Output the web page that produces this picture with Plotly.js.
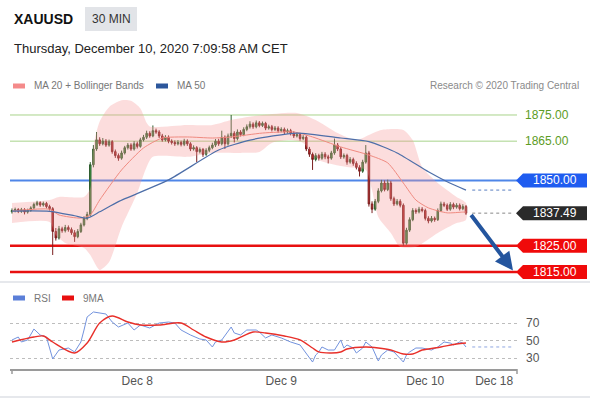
<!DOCTYPE html>
<html><head><meta charset="utf-8">
<script src="https://cdn.plot.ly/plotly-3.0.1.min.js"></script>
<style>html,body{margin:0;padding:0;background:#fff}#chart{width:590px;height:400px}</style>
</head><body><div id="chart"></div>
<script>
// ---------- DATA ----------
const symbol = 'XAUUSD';
const timeframe = '30 MIN';
const stamp = 'Thursday, December 10, 2020 7:09:58 AM CET';

const openP = [1838.0,1838.5,1838.9,1838.2,1838.8,1837.9,1838.6,1839.5,1840.8,1841.5,
 1840.6,1841.2,1840.0,1839.2,1830.5,1828.0,1831.5,1830.8,1832.0,1831.2,
 1830.0,1828.5,1830.5,1833.0,1835.5,1837.0,1856.0,1862.0,1865.5,1864.0,
 1865.0,1863.5,1864.8,1861.0,1859.5,1858.5,1860.5,1862.5,1863.5,1862.0,
 1864.0,1863.0,1865.5,1866.5,1868.0,1867.0,1869.0,1868.5,1867.0,1865.5,
 1866.5,1865.0,1864.5,1864.0,1864.5,1863.8,1865.0,1864.0,1862.0,1862.5,
 1861.0,1861.8,1860.0,1861.5,1862.5,1863.5,1865.0,1864.0,1866.5,1864.0,
 1867.0,1868.0,1866.0,1868.5,1867.5,1869.5,1870.5,1871.5,1870.5,1872.0,
 1871.0,1871.8,1870.0,1870.5,1869.5,1870.0,1869.0,1869.5,1868.5,1869.0,
 1868.0,1867.0,1867.5,1866.0,1866.5,1862.0,1860.0,1858.0,1859.5,1858.5,
 1860.0,1859.0,1858.5,1860.5,1863.5,1862.0,1859.0,1859.5,1857.0,1858.0,
 1856.5,1855.0,1853.5,1857.0,1860.5,1841.0,1839.0,1842.0,1846.0,1849.0,
 1846.5,1849.0,1843.0,1841.0,1842.0,1840.5,1826.0,1831.0,1835.0,1838.5,
 1838.0,1839.0,1838.5,1835.5,1834.5,1835.5,1835.0,1838.5,1841.0,1840.5,
 1839.0,1840.8,1839.8,1840.5,1839.2,1840.0];
const highP = [1839.3,1839.6,1839.4,1839.5,1839.4,1839.2,1840.1,1841.5,1842.2,1842.0,
 1841.9,1841.8,1840.7,1839.8,1831.8,1832.6,1832.3,1833.0,1832.8,1832.0,
 1831.0,1831.4,1833.8,1836.3,1838.0,1857.0,1863.5,1868.5,1866.5,1866.2,
 1865.8,1865.6,1865.4,1861.8,1860.3,1861.4,1863.2,1864.3,1864.2,1865.0,
 1864.8,1866.3,1867.4,1869.0,1868.8,1871.0,1869.8,1869.2,1867.8,1867.3,
 1867.2,1865.7,1865.3,1865.4,1865.2,1865.9,1865.7,1864.6,1863.4,1863.1,
 1862.6,1862.4,1862.3,1863.3,1864.4,1865.8,1865.9,1869.0,1867.2,1867.9,
 1875.0,1868.8,1869.5,1869.2,1870.3,1871.4,1872.6,1872.2,1872.9,1872.7,
 1872.5,1872.4,1871.3,1871.2,1870.8,1870.7,1870.3,1870.2,1869.8,1869.7,
 1868.8,1868.3,1868.2,1867.3,1867.2,1862.8,1860.7,1860.4,1860.2,1860.9,
 1860.8,1859.8,1861.3,1866.0,1864.3,1862.7,1860.3,1860.2,1858.9,1858.7,
 1857.3,1855.8,1857.9,1863.5,1861.3,1842.0,1842.9,1847.0,1850.2,1850.0,
 1850.3,1849.8,1843.8,1842.9,1842.8,1841.2,1831.9,1835.9,1839.4,1839.3,
 1839.9,1839.8,1839.2,1836.3,1836.4,1836.2,1839.3,1841.9,1841.8,1841.2,
 1841.7,1841.5,1841.3,1841.2,1840.9,1840.6];
const lowP = [1837.3,1837.8,1837.5,1837.6,1837.0,1837.3,1838.0,1839.0,1840.2,1839.9,
 1840.0,1839.3,1838.5,1821.5,1827.0,1827.4,1830.0,1830.1,1830.4,1829.2,
 1826.5,1827.9,1829.9,1832.4,1834.8,1836.4,1855.0,1861.3,1863.2,1863.4,
 1862.8,1862.9,1860.2,1858.6,1857.5,1857.9,1859.9,1861.8,1861.3,1861.4,
 1862.2,1862.5,1864.9,1865.8,1866.3,1866.5,1867.8,1866.2,1864.8,1864.9,
 1864.2,1863.7,1863.2,1863.4,1863.0,1863.1,1863.2,1861.2,1861.4,1857.0,
 1860.3,1859.0,1859.4,1860.8,1861.9,1862.8,1863.2,1863.4,1862.0,1863.3,
 1866.2,1864.5,1865.3,1866.8,1866.9,1868.8,1869.8,1869.7,1869.9,1870.3,
 1870.4,1869.2,1869.4,1868.7,1868.9,1868.2,1868.4,1867.7,1867.9,1867.2,
 1866.2,1866.4,1865.2,1865.4,1861.2,1859.0,1854.0,1857.3,1857.6,1857.9,
 1858.1,1856.5,1857.9,1859.8,1861.2,1858.2,1858.3,1856.0,1856.4,1855.6,
 1854.2,1851.5,1852.9,1856.4,1840.0,1837.5,1838.4,1841.3,1845.4,1845.8,
 1845.9,1842.2,1840.2,1840.4,1839.7,1825.0,1825.4,1830.3,1834.4,1837.2,
 1837.4,1837.8,1834.7,1833.6,1833.9,1834.2,1834.5,1837.9,1839.8,1838.3,
 1838.4,1839.0,1839.2,1838.5,1838.6,1836.8];
const closeP = [1838.5,1838.9,1838.2,1838.8,1837.9,1838.6,1839.5,1840.8,1841.5,1840.6,
 1841.2,1840.0,1839.2,1830.5,1828.0,1831.5,1830.8,1832.0,1831.2,1830.0,
 1828.5,1830.5,1833.0,1835.5,1837.0,1856.0,1862.0,1865.5,1864.0,1865.0,
 1863.5,1864.8,1861.0,1859.5,1858.5,1860.5,1862.5,1863.5,1862.0,1864.0,
 1863.0,1865.5,1866.5,1868.0,1867.0,1869.0,1868.5,1867.0,1865.5,1866.5,
 1865.0,1864.5,1864.0,1864.5,1863.8,1865.0,1864.0,1862.0,1862.5,1861.0,
 1861.8,1860.0,1861.5,1862.5,1863.5,1865.0,1864.0,1866.5,1864.0,1867.0,
 1868.0,1866.0,1868.5,1867.5,1869.5,1870.5,1871.5,1870.5,1872.0,1871.0,
 1871.8,1870.0,1870.5,1869.5,1870.0,1869.0,1869.5,1868.5,1869.0,1868.0,
 1867.0,1867.5,1866.0,1866.5,1862.0,1860.0,1858.0,1859.5,1858.5,1860.0,
 1859.0,1858.5,1860.5,1863.5,1862.0,1859.0,1859.5,1857.0,1858.0,1856.5,
 1855.0,1853.5,1857.0,1860.5,1841.0,1839.0,1842.0,1846.0,1849.0,1846.5,
 1849.0,1843.0,1841.0,1842.0,1840.5,1826.0,1831.0,1835.0,1838.5,1838.0,
 1839.0,1838.5,1835.5,1834.5,1835.5,1835.0,1838.5,1841.0,1840.5,1839.0,
 1840.8,1839.8,1840.5,1839.2,1840.0,1837.49];

// MA 50 (read at sample bars)
const ma50Bar = [0, 12, 20, 24, 28, 34, 50, 66, 76, 91, 105, 114, 123, 133, 139, 145];
const ma50Val = [1838.3, 1838.2, 1836.5, 1835.6, 1838.0, 1841.9, 1850.2, 1861.6, 1865.4, 1868.1, 1866.2, 1864.8, 1860.5, 1853.3, 1849.5, 1846.3];
// MA 20
const ma20Bar = [0, 12, 15, 22, 25, 28, 35, 42, 48, 56, 64, 70, 80, 90, 96, 105, 114, 120, 125, 129, 133, 139, 144, 145];
const ma20Val = [1838.3, 1839.0, 1836.8, 1835.6, 1836.8, 1842.5, 1854.0, 1862.4, 1866.2, 1866.6, 1866.2, 1866.6, 1868.1, 1868.5, 1866.6, 1862.8, 1859.7, 1856.7, 1849.0, 1842.5, 1839.5, 1837.6, 1837.9, 1837.9];
// Bollinger upper / lower
const bbUpBar = [0, 12, 15, 23, 25, 26, 28, 31, 35, 38, 41, 43, 44, 56, 64, 70, 80, 91, 97, 104, 110, 114, 118, 125, 128, 131, 136, 142, 145];
const bbUpVal = [1841.4, 1842.5, 1843.7, 1843.7, 1847.0, 1863.0, 1872.5, 1878.0, 1880.6, 1880.4, 1877.5, 1872.0, 1870.6, 1871.2, 1871.2, 1873.1, 1875.0, 1875.8, 1873.1, 1868.1, 1865.4, 1867.4, 1869.3, 1869.3, 1865.4, 1855.1, 1849.0, 1843.7, 1841.4];
const bbLoBar = [0, 12, 14, 17, 23, 25, 28, 31, 35, 40, 43, 45, 56, 64, 73, 79, 83, 89, 93, 98, 107, 113, 115, 117, 121, 124, 129, 136, 142, 145];
const bbLoVal = [1833.7, 1834.1, 1829.1, 1826.1, 1824.2, 1821.5, 1815.8, 1818.8, 1832.2, 1845.2, 1855.1, 1859.0, 1859.0, 1860.5, 1860.5, 1860.9, 1864.3, 1865.4, 1864.3, 1857.8, 1855.1, 1854.0, 1846.3, 1836.0, 1829.9, 1824.6, 1824.6, 1829.9, 1833.7, 1834.9];

// RSI and its 9MA
const rsiBar = [0,2,3,5,7,9,11,13,15,18,20,22,23,24,26,28,30,32,34,37,39,41,44,47,50,52,54,57,60,62,64,65,67,70,71,73,75,78,79,81,83,86,89,92,94,96,97,98,99,101,103,105,106,107,109,110,112,113,115,117,118,120,122,123,125,126,127,129,131,134,136,138,140,141,143,144,145];
const rsiVal = [50.6,54,48.3,50.6,63.1,56.3,54,28.9,39.1,41.4,36.9,48.3,62,76.9,82.6,81.4,80.3,71.1,65.4,70,62,67.7,64.3,70,71.1,70,62,56.3,51.7,50.6,42.6,48.3,50.6,65.4,58.6,56.3,62,62,59.7,52.9,56.3,52.9,48.3,44.9,35.7,25.4,33.4,36.9,42.6,39.1,39.1,50.6,41.4,44.9,41.4,35.7,41.4,48.3,42.6,26.6,33.4,39.1,36.9,33.4,25.4,33.4,36.9,41.4,41.4,39.1,42.6,48.3,47.1,44.9,48.3,47.1,42.6];
const ma9Bar = [0,7,10,13,20,24,28,32,37,41,47,54,58,62,67,71,77,81,87,92,96,98,102,105,107,113,117,121,125,128,131,137,142,145];
const ma9Val = [48.3,54,55.1,48.3,35.7,47.1,70,78,71.1,67.7,67.7,70,62,54,48.3,50.6,59.7,58.6,55.1,50.6,41.4,36.9,35.7,36.9,40.3,42.6,41.4,39.1,34.6,34.6,39.1,42.6,46,47.1];

// Key levels
const resistLevels = [1875, 1865];
const pivotLevel = 1850;
const supportLevels = [1825, 1815];
const rsiTicks = [30, 50, 70];

const tickBars = [40, 86, 132, 154];
const tickLabels = ['Dec 8', 'Dec 9', 'Dec 10', 'Dec 18'];

// ---------- LAYOUT HELPERS ----------
const W = 590, H = 400, L = 10, R = 73;
const PW = W - L - R;
const px2x = px => (px - L) / PW;
const px2y = py => 1 - py / H;
const bars = closeP.map((_, i) => i);
const last = closeP.length - 1;
const FONT = 'Arial, "Liberation Sans", sans-serif';

const traces = [];
// Bollinger band area
traces.push({
  type: 'scatter', mode: 'lines', xaxis: 'x', yaxis: 'y',
  x: bbUpBar.concat(bbLoBar.slice().reverse()),
  y: bbUpVal.concat(bbLoVal.slice().reverse()),
  fill: 'toself', fillcolor: 'rgba(246,150,150,0.32)',
  line: {width: 0, shape: 'spline', smoothing: 0.7}, hoverinfo: 'skip', cliponaxis: true
});
traces.push({
  type: 'candlestick', xaxis: 'x', yaxis: 'y', x: bars,
  open: openP, high: highP, low: lowP, close: closeP,
  increasing: {line: {color: '#2f5d2f', width: 1}, fillcolor: '#3f9a3f'},
  decreasing: {line: {color: '#7a1f1f', width: 1}, fillcolor: '#d02a2a'},
  whiskerwidth: 0, hoverinfo: 'skip'
});
traces.push({type: 'scatter', mode: 'lines', x: ma20Bar, y: ma20Val, xaxis: 'x', yaxis: 'y',
  line: {color: '#f08a80', width: 1, shape: 'spline', smoothing: 0.6}, hoverinfo: 'skip'});
traces.push({type: 'scatter', mode: 'lines', x: ma50Bar, y: ma50Val, xaxis: 'x', yaxis: 'y',
  line: {color: '#4d6ea8', width: 1.2, shape: 'spline', smoothing: 0.6}, hoverinfo: 'skip'});
traces.push({type: 'scatter', mode: 'lines', x: rsiBar, y: rsiVal, xaxis: 'x2', yaxis: 'y2',
  line: {color: '#7393de', width: 1}, hoverinfo: 'skip'});
traces.push({type: 'scatter', mode: 'lines', x: ma9Bar, y: ma9Val, xaxis: 'x2', yaxis: 'y2',
  line: {color: '#e8302a', width: 1.4, shape: 'spline', smoothing: 0.8}, hoverinfo: 'skip'});

const shapes = [];
const annotations = [];
const lineEnd = px2x(517);
resistLevels.forEach(v => {
  shapes.push({type: 'line', xref: 'paper', yref: 'y', x0: px2x(10), x1: lineEnd, y0: v, y1: v,
    line: {color: '#a8d38a', width: 1}, layer: 'below'});
  annotations.push({xref: 'paper', yref: 'y', x: px2x(523), y: v, xanchor: 'left', yanchor: 'middle',
    text: v.toFixed(2), showarrow: false, font: {family: FONT, size: 12, color: '#5c9c25'}});
});
shapes.push({type: 'line', xref: 'paper', yref: 'y', x0: px2x(10), x1: lineEnd, y0: pivotLevel, y1: pivotLevel,
  line: {color: '#4f86e8', width: 2}, layer: 'below'});
supportLevels.forEach(v => {
  shapes.push({type: 'line', xref: 'paper', yref: 'y', x0: px2x(10), x1: lineEnd, y0: v, y1: v,
    line: {color: '#e81010', width: 2.5}, layer: 'below'});
});
// dotted continuations
const dotX0 = 147, dotX1 = 159.7;
shapes.push({type: 'line', xref: 'x', yref: 'y', x0: dotX0, x1: dotX1, y0: ma50Val[ma50Val.length-1], y1: ma50Val[ma50Val.length-1],
  line: {color: '#5a7fc0', width: 1, dash: 'dot'}});
shapes.push({type: 'line', xref: 'x', yref: 'y', x0: dotX0, x1: dotX1, y0: closeP[last], y1: closeP[last],
  line: {color: '#888', width: 1, dash: 'dot'}});
shapes.push({type: 'line', xref: 'x2', yref: 'y2', x0: dotX0, x1: dotX1, y0: rsiVal[rsiVal.length-1], y1: rsiVal[rsiVal.length-1],
  line: {color: '#8fa6e0', width: 1, dash: 'dot'}});

// label tags
const tagH = 7 / 2.617;
function tag(v, color) {
  const a = px2x(516), b = px2x(523), c = px2x(587);
  shapes.push({type: 'path', xref: 'paper', yref: 'y',
    path: `M ${a},${v} L ${b},${v + tagH} L ${c},${v + tagH} L ${c},${v - tagH} L ${b},${v - tagH} Z`,
    fillcolor: color, line: {width: 0}});
  annotations.push({xref: 'paper', yref: 'y', x: px2x(555), y: v, xanchor: 'center', yanchor: 'middle',
    text: v.toFixed(2), showarrow: false, font: {family: FONT, size: 12, color: '#fff'}});
}
tag(pivotLevel, '#1f5cf0');
tag(closeP[last], '#2a2a2a');
supportLevels.forEach(v => tag(v, '#f00a0a'));

// projection arrow
annotations.push({xref: 'paper', yref: 'y', x: px2x(513), y: supportLevels[1] + 0.6, ax: -43, ay: -57,
  showarrow: true, arrowhead: 2, arrowsize: 0.9, arrowwidth: 4, arrowcolor: '#24559e', text: ''});

// RSI axis end caps
shapes.push({type: 'line', xref: 'paper', yref: 'paper', x0: px2x(12), x1: px2x(12), y0: px2y(369), y1: px2y(374), line: {color: '#9a9a9a', width: 1.5}});
shapes.push({type: 'line', xref: 'paper', yref: 'paper', x0: px2x(517), x1: px2x(517), y0: px2y(369), y1: px2y(374), line: {color: '#9a9a9a', width: 1.5}});

// panel separator / frame
shapes.push({type: 'line', xref: 'paper', yref: 'paper', x0: px2x(0), x1: px2x(590), y0: px2y(282), y1: px2y(282), line: {color: '#e6e8ec', width: 2}});
shapes.push({type: 'line', xref: 'paper', yref: 'paper', x0: px2x(0), x1: px2x(590), y0: px2y(397), y1: px2y(397), line: {color: '#e6e8ec', width: 2}});

// header
shapes.push({type: 'rect', xref: 'paper', yref: 'paper', x0: px2x(85), x1: px2x(137), y0: px2y(31), y1: px2y(7),
  fillcolor: '#e2e4e8', line: {width: 0}});
annotations.push({xref: 'paper', yref: 'paper', x: px2x(12), y: px2y(19), xanchor: 'left', yanchor: 'middle',
  text: '<b>' + symbol + '</b>', showarrow: false, font: {family: FONT, size: 14, color: '#111'}});
annotations.push({xref: 'paper', yref: 'paper', x: px2x(111), y: px2y(19), xanchor: 'center', yanchor: 'middle',
  text: timeframe, showarrow: false, font: {family: FONT, size: 12, color: '#333'}});
annotations.push({xref: 'paper', yref: 'paper', x: px2x(12), y: px2y(48), xanchor: 'left', yanchor: 'middle',
  text: stamp, showarrow: false, font: {family: FONT, size: 13, color: '#222'}});

// legends
function legendItem(x, y, color, label) {
  shapes.push({type: 'rect', xref: 'paper', yref: 'paper', x0: px2x(x), x1: px2x(x + 12), y0: px2y(y + 2.5), y1: px2y(y - 2.5),
    fillcolor: color, line: {width: 0}});
  annotations.push({xref: 'paper', yref: 'paper', x: px2x(x + 19), y: px2y(y), xanchor: 'left', yanchor: 'middle',
    text: label, showarrow: false, font: {family: FONT, size: 10, color: '#777'}});
}
legendItem(13, 86, '#f48a8a', 'MA 20 + Bollinger Bands');
legendItem(156, 86, '#2c579c', 'MA 50');
legendItem(13, 298, '#5b7fd8', 'RSI');
legendItem(62, 298, '#e81010', '9MA');
annotations.push({xref: 'paper', yref: 'paper', x: px2x(581), y: px2y(86), xanchor: 'right', yanchor: 'middle',
  text: 'Research © 2020 Trading Central', showarrow: false, font: {family: FONT, size: 10, color: '#8a8a8a'}});

const xr = [-0.64, 161.3];
const layout = {
  width: W, height: H, margin: {l: L, r: R, t: 0, b: 0},
  paper_bgcolor: '#fff', plot_bgcolor: '#fff', showlegend: false,
  font: {family: FONT},
  xaxis: {domain: [0, 1], range: xr, anchor: 'y', showticklabels: false, showgrid: false, zeroline: false,
    showline: false, rangeslider: {visible: false}, fixedrange: true},
  yaxis: {domain: [1 - 285 / H, 1 - 100 / H], range: [1810.03, 1880.73], visible: false, fixedrange: true},
  xaxis2: {domain: [0, 1], range: xr, anchor: 'y2', tickvals: tickBars, ticktext: tickLabels, ticks: '',
    showgrid: false, zeroline: false, showline: true, linecolor: '#9a9a9a', linewidth: 1.5,
    tickfont: {family: FONT, size: 12, color: '#555'}},
  yaxis2: {domain: [1 - 369 / H, 1 - 305 / H], range: [17.43, 90.57], side: 'right', tickvals: rsiTicks,
    ticks: '', showgrid: true, gridcolor: '#bdbdbd', griddash: 'dot', gridwidth: 1, zeroline: false,
    showline: false, ticklabelstandoff: 8, tickfont: {family: FONT, size: 12, color: '#555'}},
  shapes: shapes, annotations: annotations
};
Plotly.newPlot('chart', traces, layout, {displayModeBar: false, staticPlot: true});
</script></body></html>
